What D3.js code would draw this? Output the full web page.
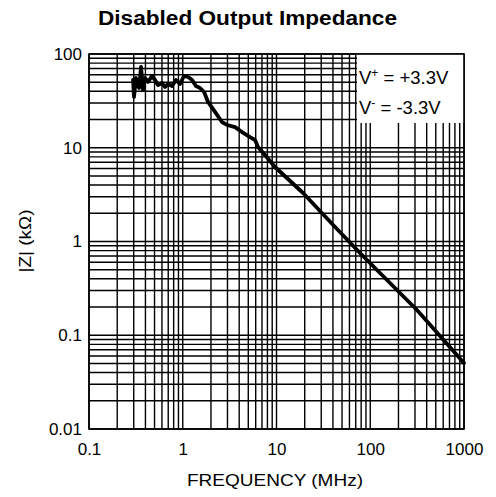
<!DOCTYPE html>
<html>
<head>
<meta charset="utf-8">
<script src="https://cdn.jsdelivr.net/npm/d3@7"></script>
<style>
  body { margin: 0; background: #fff; }
  text { font-family: "Liberation Sans", Arial, Helvetica, sans-serif; fill: #000; }
</style>
</head>
<body>
<div id="chart"></div>
<script>
// frequency in MHz and |Z| in kOhm
const freqMHz = [0.295, 0.302, 0.317, 0.342, 0.359, 0.377, 0.396, 0.426, 0.47, 0.506,
  0.545, 0.601, 0.647, 0.696, 0.768, 0.847, 0.935, 1.03, 1.14, 1.26,
  1.38, 1.53, 1.69, 1.86, 2.21, 2.62, 2.97, 3.61, 4.29, 5.22,
  5.9, 6.35, 7.54, 9.64, 19.2, 40, 77.8, 315, 1000];
const impedanceK = [52.8, 34.8, 55.5, 43.4, 72.7, 41.3, 55.5, 50.3, 58.3, 52.8,
  46.7, 49.1, 44.5, 47.9, 45.6, 52.8, 47.9, 58.3, 56.9, 52.8,
  45.6, 43.4, 39.3, 30.8, 24.1, 18.8, 17.5, 16.6, 14.7, 13.0,
  12.1, 10.2, 8.37, 6.23, 3.29, 1.51, 0.754, 0.186, 0.0506];

const xTickValues = [0.1, 1, 10, 100, 1000];
const xTickLabels = ["0.1", "1", "10", "100", "1000"];
const yTickValues = [0.01, 0.1, 1, 10, 100];
const yTickLabels = ["0.01", "0.1", "1", "10", "100"];

const titleText = "Disabled Output Impedance";
const xTitle = "FREQUENCY (MHz)";
const yTitle = "|Z| (kΩ)";
const legendRows = [
  { sup: "+", rest: " = +3.3V" },
  { sup: "-", rest: " = -3.3V" }
];

const data = freqMHz.map((f, i) => ({ f: f, z: impedanceK[i] }));

const W = 496, H = 497;
const margin = { top: 54, right: 32, bottom: 68, left: 89 };
const width = W - margin.left - margin.right;
const height = H - margin.top - margin.bottom;

const svg = d3.select("#chart").append("svg")
  .attr("width", W)
  .attr("height", H);

const g = svg.append("g")
  .attr("transform", `translate(${margin.left},${margin.top})`);

const x = d3.scaleLog().domain([0.1, 1000]).range([0, width]);
const y = d3.scaleLog().domain([0.01, 100]).range([height, 0]);

// every 1..9 step of each decade
function gridValues(lo, hi) {
  const out = [];
  for (let d = lo; d < hi * 0.999; d *= 10) {
    for (let k = 1; k <= 9; k++) out.push(d * k);
  }
  out.push(hi);
  return out;
}

g.append("g").selectAll("line")
  .data(gridValues(0.1, 1000))
  .enter().append("line")
  .attr("x1", d => x(d)).attr("x2", d => x(d))
  .attr("y1", 0).attr("y2", height)
  .attr("stroke", "#000")
  .attr("stroke-width", 1.4);

g.append("g").selectAll("line")
  .data(gridValues(0.01, 100))
  .enter().append("line")
  .attr("y1", d => y(d)).attr("y2", d => y(d))
  .attr("x1", 0).attr("x2", width)
  .attr("stroke", "#000")
  .attr("stroke-width", 1.4);

// legend box hides the grid in the top right corner
const boxW = 107, boxH = 69;
g.append("rect")
  .attr("x", width - boxW)
  .attr("y", 0)
  .attr("width", boxW)
  .attr("height", boxH)
  .attr("fill", "#fff");

legendRows.forEach((r, i) => {
  const t = g.append("text")
    .attr("x", width - boxW + 2)
    .attr("y", 30 + i * 30)
    .attr("font-size", 18.5);
  t.append("tspan").text("V");
  t.append("tspan")
    .attr("font-size", 12)
    .attr("dy", -7)
    .text(r.sup);
  t.append("tspan")
    .attr("dy", 7)
    .text(r.rest);
});

// frame
g.append("rect")
  .attr("width", width)
  .attr("height", height)
  .attr("fill", "none")
  .attr("stroke", "#000")
  .attr("stroke-width", 1.6);

const line = d3.line()
  .x(d => x(d.f))
  .y(d => y(d.z));

g.append("path")
  .datum(data)
  .attr("fill", "none")
  .attr("stroke", "#000")
  .attr("stroke-width", 3.8)
  .attr("stroke-linejoin", "round")
  .attr("stroke-linecap", "round")
  .attr("d", line);

// axes, labels only
const xAxis = d3.axisBottom(x)
  .tickValues(xTickValues)
  .tickFormat((d, i) => xTickLabels[i])
  .tickSize(0)
  .tickPadding(14);
g.append("g")
  .attr("transform", `translate(0,${height})`)
  .call(xAxis)
  .call(a => a.select(".domain").remove())
  .selectAll("text")
  .attr("font-size", 17)
  .attr("font-family", "Liberation Sans, Arial, sans-serif");

const yAxis = d3.axisLeft(y)
  .tickValues(yTickValues)
  .tickFormat((d, i) => yTickLabels[i])
  .tickSize(0)
  .tickPadding(7);
g.append("g")
  .call(yAxis)
  .call(a => a.select(".domain").remove())
  .selectAll("text")
  .attr("font-size", 17)
  .attr("font-family", "Liberation Sans, Arial, sans-serif");

svg.append("text")
  .attr("x", 98)
  .attr("y", 25)
  .attr("font-size", 20)
  .attr("font-weight", "bold")
  .attr("textLength", 299)
  .attr("lengthAdjust", "spacingAndGlyphs")
  .text(titleText);

svg.append("text")
  .attr("x", 187)
  .attr("y", 486)
  .attr("font-size", 17)
  .attr("textLength", 176)
  .attr("lengthAdjust", "spacingAndGlyphs")
  .text(xTitle);

svg.append("text")
  .attr("transform", `translate(31,${margin.top + height / 2 + 31}) rotate(-90)`)
  .attr("font-size", 17)
  .attr("textLength", 63)
  .attr("lengthAdjust", "spacingAndGlyphs")
  .text(yTitle);
</script>
</body>
</html>
